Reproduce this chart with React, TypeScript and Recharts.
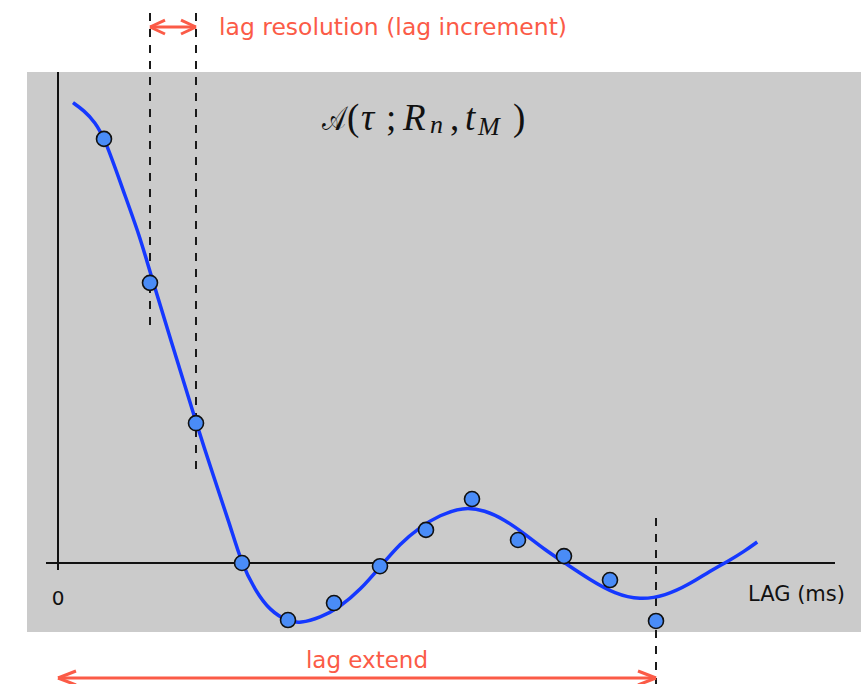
import React from 'react';
import { ComposedChart, Line, Scatter, XAxis, YAxis, CartesianGrid, ReferenceLine, Customized } from 'recharts';

// Sampled lag values (lag index) and estimated correlation values
const lagIndex = [1, 2, 3, 4, 5, 6, 7, 8, 9, 10, 11, 12, 13];
const lagValues = [0.922, 0.609, 0.304, 0.0, -0.124, -0.087, -0.007, 0.072, 0.139, 0.05, 0.015, -0.037, -0.126];

// True (continuous) function samples
const curveLag = [0.326, 0.565, 0.804, 1.022, 1.413, 1.783, 1.978, 2.5, 3.0, 3.37, 3.74, 3.98, 4.28, 4.61, 5.0, 5.26, 5.7, 6.13, 6.57, 7.02, 7.43, 7.87, 8.3, 8.8, 9.28, 9.72, 10.15, 10.59, 11.02, 11.57, 12.11, 12.65, 13.2, 13.74, 14.17, 14.54, 14.93, 15.2];
const curveValues = [1.0007, 0.9837, 0.9587, 0.9217, 0.8109, 0.7087, 0.64, 0.4696, 0.306, 0.1913, 0.0826, 0.002, -0.0587, -0.104, -0.127, -0.131, -0.119, -0.0957, -0.0587, -0.0065, 0.0413, 0.0783, 0.104, 0.1216, 0.115, 0.0935, 0.063, 0.0283, 0.0, -0.037, -0.0674, -0.0803, -0.0716, -0.0457, -0.0174, 0.0022, 0.026, 0.0457];

const points = lagIndex.map((x, i) => ({ x, y: lagValues[i] }));
const curve = curveLag.map((x, i) => ({ x, y: curveValues[i] }));

const RED = '#fb5b47';
const X_DOMAIN: [number, number] = [-31 / 46, 803 / 46];
const Y_DOMAIN: [number, number] = [-0.15, 491 / 460];

const Dot = (p: any) => (
  <circle cx={p.cx} cy={p.cy} r={7.5} fill="#4a8cf7" stroke="#111" strokeWidth={1.6} />
);

const MATH_FONT = 'Liberation Serif';

const Annotations = () => (
  <g>
    <text x={219} y={35} fill={RED} fontFamily="DejaVu Sans" fontSize={23.5} textLength={348} lengthAdjust="spacingAndGlyphs">lag resolution (lag increment)</text>
    <text x={367} y={668} fill={RED} fontFamily="DejaVu Sans" fontSize={23} textAnchor="middle">lag extend</text>
    <text x={58} y={605} fill="#111" fontFamily="DejaVu Sans" fontSize={20} textAnchor="middle">0</text>
    <text x={748} y={601} fill="#111" fontFamily="DejaVu Sans" fontSize={21.5} textLength={97} lengthAdjust="spacingAndGlyphs">LAG (ms)</text>
    <text x={0} y={0} transform="translate(322,130) scale(1,1.35)" fill="#111" fontFamily={MATH_FONT} fontSize={25}>𝒜</text>
    <text y={130} fill="#111" fontFamily={MATH_FONT} fontSize={37}>
      <tspan x={347}>(</tspan>
      <tspan x={361} fontStyle="italic">τ</tspan>
      <tspan x={386}>;</tspan>
      <tspan x={403} fontStyle="italic">R</tspan>
      <tspan x={430} fontStyle="italic" fontSize={26} dy={3}>n</tspan>
      <tspan x={450} dy={-3}>,</tspan>
      <tspan x={465} fontStyle="italic">t</tspan>
      <tspan x={478} fontStyle="italic" fontSize={26} dy={5}>M</tspan>
      <tspan x={513} dy={-5}>)</tspan>
    </text>
  </g>
);

const dashProps = { stroke: '#1a1a1a', strokeWidth: 2, strokeDasharray: '8 8', ifOverflow: 'visible' as const };
const redProps = { stroke: RED, strokeWidth: 3, ifOverflow: 'visible' as const };

export default function App() {
  const topY = 1.1652;
  const botY = -0.25;
  const ax = 0.326;
  const ay = 0.0152;
  const bx = 0.391;
  return (
    <div style={{ position: 'absolute', left: 0, top: 0, width: 861, height: 684, background: '#fff' }}>
      <ComposedChart width={861} height={684} margin={{ top: 72, right: 0, bottom: 52, left: 27 }}>
        <CartesianGrid horizontal={false} vertical={false} fill="#cbcbcb" />
        <XAxis type="number" dataKey="x" domain={X_DOMAIN} hide allowDataOverflow />
        <YAxis type="number" dataKey="y" domain={Y_DOMAIN} hide allowDataOverflow />
        {/* axes */}
        <ReferenceLine segment={[{ x: 0, y: 1.0674 }, { x: 0, y: -0.0152 }]} stroke="#111" strokeWidth={2} ifOverflow="visible" />
        <ReferenceLine segment={[{ x: -0.261, y: 0 }, { x: 16.891, y: 0 }]} stroke="#111" strokeWidth={2} ifOverflow="visible" />
        {/* dashed guides */}
        <ReferenceLine segment={[{ x: 2, y: 1.1957 }, { x: 2, y: 0.5065 }]} {...dashProps} />
        <ReferenceLine segment={[{ x: 3, y: 1.1957 }, { x: 3, y: 0.1978 }]} {...dashProps} />
        <ReferenceLine segment={[{ x: 13, y: 0.0978 }, { x: 13, y: -0.263 }]} {...dashProps} />
        <Line data={curve} dataKey="y" type="basis" stroke="#1538ff" strokeWidth={3.5} dot={false} activeDot={false} isAnimationActive={false} />
        <Scatter data={points} dataKey="y" shape={Dot} isAnimationActive={false} />
        {/* top double arrow */}
        <ReferenceLine segment={[{ x: 2, y: topY }, { x: 3, y: topY }]} {...redProps} />
        <ReferenceLine segment={[{ x: 2 + ax, y: topY + ay }, { x: 2, y: topY }]} {...redProps} />
        <ReferenceLine segment={[{ x: 2 + ax, y: topY - ay }, { x: 2, y: topY }]} {...redProps} />
        <ReferenceLine segment={[{ x: 3 - ax, y: topY + ay }, { x: 3, y: topY }]} {...redProps} />
        <ReferenceLine segment={[{ x: 3 - ax, y: topY - ay }, { x: 3, y: topY }]} {...redProps} />
        {/* bottom double arrow */}
        <ReferenceLine segment={[{ x: 0, y: botY }, { x: 13, y: botY }]} {...redProps} />
        <ReferenceLine segment={[{ x: bx, y: botY + ay }, { x: 0, y: botY }]} {...redProps} />
        <ReferenceLine segment={[{ x: bx, y: botY - ay }, { x: 0, y: botY }]} {...redProps} />
        <ReferenceLine segment={[{ x: 13 - bx, y: botY + ay }, { x: 13, y: botY }]} {...redProps} />
        <ReferenceLine segment={[{ x: 13 - bx, y: botY - ay }, { x: 13, y: botY }]} {...redProps} />
        <Customized component={Annotations} />
      </ComposedChart>
    </div>
  );
}
